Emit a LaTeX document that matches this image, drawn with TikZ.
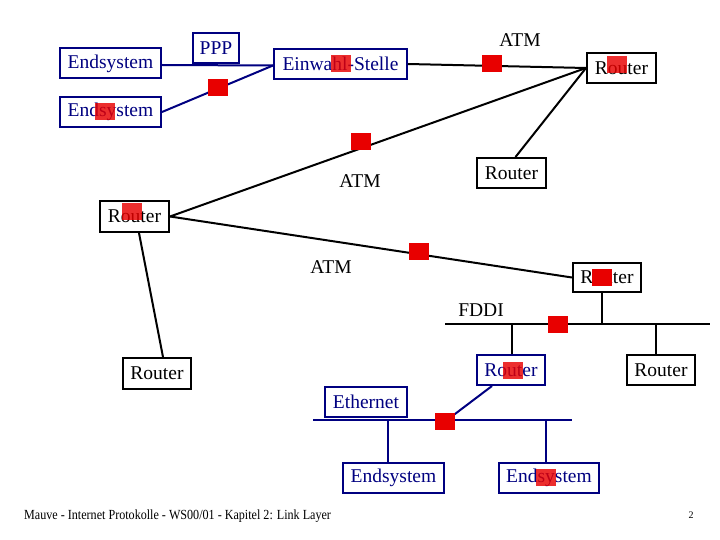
\documentclass[tikz,border=0pt]{standalone}
\usepackage{fontspec}
\setmainfont{Liberation Serif}
\definecolor{nv}{RGB}{0,0,128}
\definecolor{sq}{RGB}{232,0,0}
\begin{document}
\begin{tikzpicture}[x=1pt,y=-1pt,
 box/.style={draw, line width=2pt, inner sep=0pt, font=\fontsize{19.5}{22}\selectfont, minimum height=30pt},
 nbox/.style={box, draw=nv, text=nv},
 bbox/.style={box, draw=black, text=black},
 lbl/.style={font=\fontsize{19.5}{22}\selectfont, inner sep=0pt},
 bl/.style={line width=2pt, black},
 nl/.style={line width=2pt, nv},
 redsq/.style={fill=sq, minimum width=20pt, minimum height=17pt, inner sep=0pt, draw=none, fill opacity=0.82},
 redsqo/.style={redsq, fill opacity=1}]
\useasboundingbox (0,0) rectangle (720,540);
% boxes
\node[nbox, minimum width=101pt] (es1) at (110.5,63.5) {Endsystem};
\node[nbox, minimum width=46pt] (ppp) at (216,48) {PPP};
\node[nbox, minimum width=133pt] (ein) at (340.5,64) {Einwahl-Stelle};
\node[nbox, minimum width=101pt] (es2) at (110.5,112) {Endsystem};
\node[bbox, minimum width=69pt] (r1) at (621.5,68) {Router};
\node[bbox, minimum width=69pt] (r2) at (511.5,173) {Router};
\node[bbox, minimum width=69pt, minimum height=31pt] (r3) at (134.5,216.5) {Router};
\node[bbox, minimum width=68pt, minimum height=29pt] (r4) at (607,277.5) {Router};
\node[bbox, minimum width=68pt] (r5) at (661,370) {Router};
\node[nbox, minimum width=68pt] (r6) at (511,370) {Router};
\node[bbox, minimum width=68pt, minimum height=31pt] (r7) at (157,373.5) {Router};
\node[nbox, minimum width=82pt] (eth) at (366,402) {Ethernet};
\node[nbox, minimum width=101pt] (es3) at (393.5,478) {Endsystem};
\node[nbox, minimum width=100pt] (es4) at (549,478) {Endsystem};
% labels
\node[lbl] (atm1) at (520,40) {ATM};
\node[lbl] (atm2) at (360,181) {ATM};
\node[lbl] (atm3) at (331,267) {ATM};
\node[lbl] (fddi) at (481,310) {FDDI};
% connectors
\draw[nl] ([yshift=-1.5pt]es1.east) -- ([yshift=-1.5pt]ein.west);
\draw[nl] (es2.east) -- ([yshift=-1.5pt]ein.west);
\draw[bl] (ein.east) -- (r1.west);
\draw[bl] (r3.east) -- (r1.west);
\draw[bl] (r1.west) -- ([xshift=4pt]r2.north);
\draw[bl] (r3.east) -- (r4.west);
\draw[bl] ([xshift=4.5pt]r3.south) -- ([xshift=6pt]r7.north);
% FDDI bus
\coordinate (fL) at (445,324);
\coordinate (fR) at (710,324);
\draw[bl] (fL) -- (fR);
\draw[bl] ([xshift=-5pt]r4.south) -- ([xshift=-5pt]r4.south |- fL);
\draw[bl] ([xshift=1pt]r6.north) -- ([xshift=1pt]r6.north |- fL);
\draw[bl] ([xshift=-5pt]r5.north) -- ([xshift=-5pt]r5.north |- fL);
% Ethernet bus
\coordinate (eL) at (313,420);
\coordinate (eR) at (572,420);
\coordinate (ej) at (447,420);
\draw[nl] (eL) -- (eR);
\draw[nl] ([xshift=-5.5pt]es3.north) -- ([xshift=-5.5pt]es3.north |- eL);
\draw[nl] ([xshift=-3pt]es4.north) -- ([xshift=-3pt]es4.north |- eL);
\draw[nl] ([xshift=-19pt]r6.south) -- (ej);
% red squares
\node[redsqo] (q1) at (218,88) {};
\node[redsq] (q2) at (105,112) {};
\node[redsq] (q3) at (341,64) {};
\node[redsqo] (q4) at (492,64) {};
\node[redsq] (q5) at (617,65) {};
\node[redsqo] (q6) at (361,142) {};
\node[redsq] (q7) at (132,212) {};
\node[redsqo] (q8) at (419,251) {};
\node[redsqo] (q9) at (602,277) {};
\node[redsqo] (q10) at (558,324) {};
\node[redsq] (q11) at (513,370) {};
\node[redsqo] (q12) at (445,421) {};
\node[redsq] (q13) at (546,477) {};
% footer
\node[anchor=base west, inner sep=0pt, font=\fontsize{12.1}{14}\selectfont] (foot) at (24,519) {\scalebox{1}[1.15]{Mauve - Internet Protokolle - WS00/01 - Kapitel 2: Link Layer}};
\node[anchor=base, inner sep=0pt, font=\fontsize{10}{12}\selectfont] (pg) at (691,518) {2};
\end{tikzpicture}
\end{document}
